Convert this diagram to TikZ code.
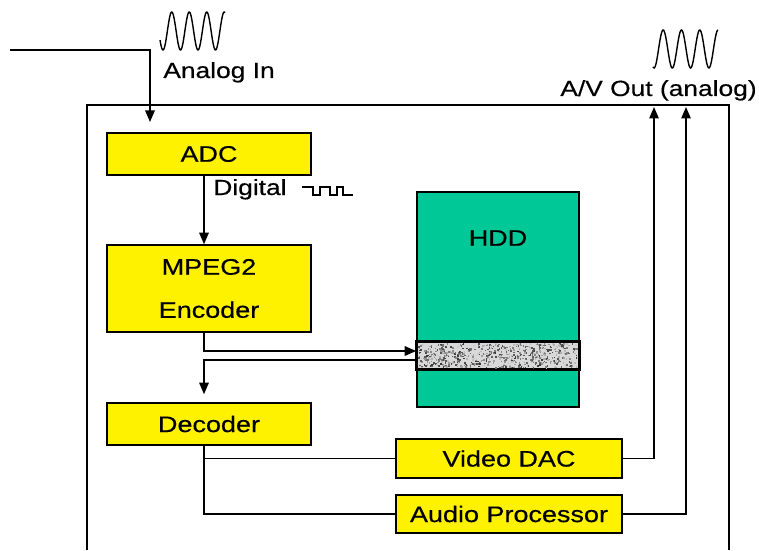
\documentclass[tikz,border=0pt]{standalone}
\usepackage{fontspec}
\setmainfont{Liberation Sans}[FakeStretch=1.2,FakeBold=0.4]
\usepackage{xcolor}
\usetikzlibrary{arrows.meta,positioning,calc}
\definecolor{hddgreen}{RGB}{0,200,150}
\begin{document}
\begin{tikzpicture}[x=0.02cm,y=-0.02cm,
  every node/.style={font=\fontsize{12.5}{14}\selectfont},
  blk/.style={draw,line width=0.9pt,fill=yellow,inner sep=0pt,font=\fontsize{12.8}{24.5}\selectfont,align=center},
  lbl/.style={inner sep=0pt,anchor=base west},
  e/.style={-{Triangle[length=2.3mm,width=1.9mm]},line width=0.8pt},
  w/.style={line width=0.8pt}]
 \useasboundingbox (0,0) rectangle (759,550);
 \draw[w] (87,550) |- (729,105) -- (729,550);
 \node[blk,minimum width=4.08cm,minimum height=0.84cm] (adc) at (209,154) {ADC};
 \node[blk,minimum width=4.08cm,minimum height=1.74cm] (enc) at (209,288.5) {MPEG2\\Encoder};
 \node[blk,minimum width=4.08cm,minimum height=0.84cm] (dec) at (209,424) {Decoder};
 \node[blk,minimum width=4.52cm,minimum height=0.78cm] (vdac) at (509,458.5) {Video DAC};
 \node[blk,minimum width=4.52cm,minimum height=0.76cm] (aud) at (509,514) {Audio Processor};
 \node[draw,line width=0.9pt,fill=hddgreen,minimum width=3.24cm,minimum height=4.3cm,inner sep=0pt] (hdd) at (498,299.5) {};
 \node[font=\fontsize{12.8}{15}\selectfont] (hddl) at (498,238) {HDD};
 \node[draw,line width=0.9pt,fill=gray!30,minimum width=3.24cm,minimum height=0.54cm,inner sep=0pt] (band) at (498,355.5) {};
 \pgfmathsetseed{7}
 \foreach \i in {1,...,700}{
   \pgfmathsetmacro\px{418+158*rnd}\pgfmathsetmacro\py{343+24*rnd}\pgfmathsetmacro\g{int(15+65*rnd)}
   \fill[black!\g] (\px,\py) rectangle ++(1.6,1.6);}
 \draw[line width=0.9pt] (band.north west) rectangle (band.south east);
 \coordinate (col) at (204,0);
 \coordinate (ain) at (10,50);
 \coordinate (aend) at (150,122);
 \coordinate (vout) at (654,107);
 \coordinate (aout) at (686,107);
 \draw[e] (ain) -| (aend);
 \draw[e] (adc.south -| col) -- (enc.north -| col);
 \draw[e] (enc.south -| col) |- ($(band.west)+(0,-4.5)$);
 \draw[e,shorten >=0.16cm] ($(band.west)+(0,4.5)$) -| (dec.north -| col);
 \draw[w] (dec.south -| col) |- (vdac.west);
 \draw[w] (dec.south -| col) |- (aud.west);
 \draw[e] (vdac.east) -| (vout);
 \draw[e] (aud.east) -| (aout);
 \node[lbl] (ainl) at (163,78) {Analog In};
 \node[lbl] (avl) at (560,96) {A/V Out (analog)};
 \node[lbl] (digl) at (213,195) {Digital};
 \draw[w] (302,187) -| (313,195) -| (320,187) -| (330,195) -| (337,187) -| (343,195) -- (353,195);
 \draw[w] plot[domain=-0.171:3.543,samples=120] ({163+17.5*\x},{31+19*cos(360*\x)});
 \draw[w] plot[domain=-0.055:3.497,samples=120] ({654+18.3*\x},{49+19*cos(360*\x)});
\end{tikzpicture}
\end{document}
